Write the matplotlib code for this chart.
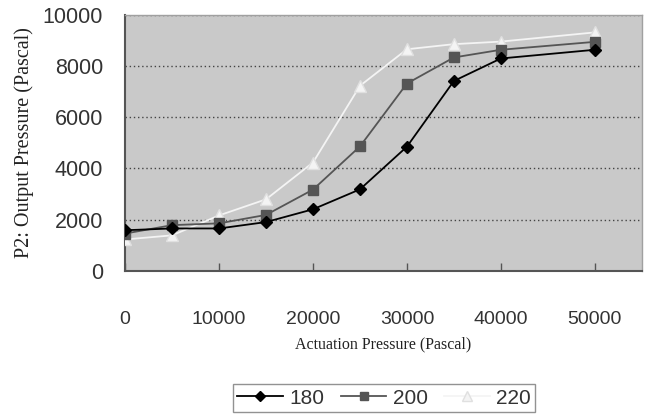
import matplotlib
matplotlib.use("Agg")
import matplotlib.pyplot as plt

# datos
presion_actuacion = [0, 5000, 10000, 15000, 20000, 25000, 30000, 35000, 40000, 50000]
p_180 = [1580, 1650, 1650, 1900, 2400, 3180, 4850, 7420, 8300, 8640]
p_200 = [1450, 1780, 1850, 2180, 3170, 4860, 7320, 8340, 8640, 8950]
p_220 = [1220, 1380, 2160, 2790, 4230, 7230, 8660, 8860, 8960, 9320]
etiquetas = ["180", "200", "220"]

fig = plt.figure(figsize=(6.45, 4.17), dpi=100)
fig.patch.set_facecolor("white")
ax = fig.add_axes([0.194, 0.351, 0.801, 0.613])
ax.set_facecolor("#c9c9c9")

ax.plot(presion_actuacion, p_180, color="black", marker="D", markersize=6.5,
        linewidth=1.3, label=etiquetas[0], zorder=5)
ax.plot(presion_actuacion, p_200, color="#555555", marker="s", markersize=7.5,
        linewidth=1.3, label=etiquetas[1], zorder=4)
ax.plot(presion_actuacion, p_220, color="#f4f4f4", marker="^", markersize=8.5,
        markeredgecolor="#e0e0e0", linewidth=1.3, label=etiquetas[2], zorder=3)

ax.set_xlim(0, 55000)
ax.set_ylim(0, 10000)
ax.set_xticks(range(0, 50001, 10000))
ax.set_yticks(range(0, 10001, 2000))
ax.yaxis.grid(True, linestyle=(0, (1, 2)), color="#444444", linewidth=1)
ax.set_axisbelow(True)

ax.tick_params(axis="x", direction="in", length=6, width=1, color="#555555",
               labelsize=14, labelcolor="#333333", pad=29)
ax.tick_params(axis="y", length=0, labelsize=15.5, labelcolor="#333333", pad=16)
for lbl in ax.get_xticklabels() + ax.get_yticklabels():
    lbl.set_fontfamily("Liberation Sans")

for lado in ["left", "bottom"]:
    ax.spines[lado].set_color("#555555")
    ax.spines[lado].set_linewidth(1.5)
for lado in ["top", "right"]:
    ax.spines[lado].set_color("#a0a0a0")
    ax.spines[lado].set_linewidth(1)

ax.set_xlabel("Actuation Pressure (Pascal)", fontfamily="Liberation Serif",
              fontsize=11.5, color="#222222", labelpad=6)
ax.set_ylabel("P2: Output Pressure (Pascal)", fontfamily="Liberation Serif",
              fontsize=14.5, color="#222222")
ax.yaxis.set_label_coords(-0.177, 0.5)

leyenda = fig.legend(loc="center", bbox_to_anchor=(384 / 645, 1 - 398 / 417),
                     ncol=3, frameon=True, fancybox=False, edgecolor="#777777",
                     prop={"family": "Liberation Sans", "size": 15},
                     handlelength=2.2, columnspacing=0.8, handletextpad=0.3,
                     borderpad=0.2, borderaxespad=0, markerscale=0.85)
leyenda.get_frame().set_linewidth(1)
for t in leyenda.get_texts():
    t.set_color("#333333")

fig.savefig("out.png", dpi=100)
